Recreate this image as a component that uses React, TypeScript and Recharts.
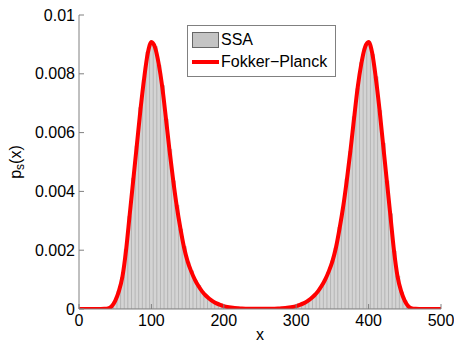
import React from "react";
import {
    ComposedChart,
    Bar,
    Line,
    XAxis,
    YAxis,
    Legend,
    Label,
} from "recharts";

// x positions of the histogram bins / curve samples
const xValues: number[] = [
    0, 5, 10, 15, 20, 25, 30, 35, 40, 45, 50, 55, 60, 65, 70, 75, 80, 85, 90, 95,
    100, 105, 110, 115, 120, 125, 130, 135, 140, 145, 150, 155, 160, 165, 170, 175, 180, 185, 190, 195,
    200, 205, 210, 215, 220, 225, 230, 235, 240, 245, 250, 255, 260, 265, 270, 275, 280, 285, 290, 295,
    300, 305, 310, 315, 320, 325, 330, 335, 340, 345, 350, 355, 360, 365, 370, 375, 380, 385, 390, 395,
    400, 405, 410, 415, 420, 425, 430, 435, 440, 445, 450, 455, 460, 465, 470, 475, 480, 485, 490, 495,
    500,
];

// Fokker-Planck stationary density, in units of 1e-3
const fokkerPlanck: number[] = [
    0, 0, 0, 0, 0, 0, 0, 0.005, 0.02, 0.09, 0.28, 0.6, 1.1, 2.0, 3.2, 4.4, 5.6, 6.8, 7.85, 8.7,
    9.08, 8.9, 8.35, 7.55, 6.5, 5.4, 4.4, 3.5, 2.75, 2.1, 1.62, 1.28, 1.0, 0.78, 0.6, 0.46, 0.35, 0.26, 0.19, 0.14,
    0.1, 0.07, 0.05, 0.035, 0.025, 0.017, 0.012, 0.009, 0.007, 0.006, 0.006, 0.006, 0.007, 0.009, 0.012, 0.017, 0.025, 0.035, 0.05, 0.07,
    0.1, 0.14, 0.19, 0.26, 0.35, 0.46, 0.6, 0.78, 1.0, 1.28, 1.62, 2.1, 2.75, 3.5, 4.4, 5.4, 6.5, 7.55, 8.35, 8.9,
    9.08, 8.7, 7.85, 6.8, 5.6, 4.4, 3.2, 2.0, 1.1, 0.6, 0.28, 0.09, 0.02, 0.005, 0, 0, 0, 0, 0, 0,
    0,
];

// SSA histogram heights, in units of 1e-3
const ssa: number[] = [
    0, 0, 0, 0, 0, 0, 0, 0.004, 0.02, 0.1, 0.27, 0.62, 1.08, 2.03, 3.15, 4.45, 5.55, 6.85, 7.8, 8.74,
    9.05, 8.93, 8.3, 7.6, 6.46, 5.43, 4.36, 3.53, 2.72, 2.13, 1.6, 1.3, 0.98, 0.8, 0.59, 0.47, 0.34, 0.27, 0.18, 0.14,
    0.1, 0.07, 0.05, 0.03, 0.02, 0.015, 0.01, 0.008, 0.006, 0.005, 0.006, 0.006, 0.006, 0.01, 0.012, 0.018, 0.026, 0.034, 0.05, 0.072,
    0.1, 0.13, 0.2, 0.25, 0.36, 0.45, 0.61, 0.77, 1.02, 1.26, 1.64, 2.08, 2.78, 3.46, 4.43, 5.36, 6.54, 7.5, 8.38, 8.86,
    9.1, 8.66, 7.9, 6.75, 5.64, 4.36, 3.24, 1.97, 1.12, 0.58, 0.29, 0.08, 0.02, 0.004, 0, 0, 0, 0, 0, 0,
    0,
];

const xTicks = [0, 100, 200, 300, 400, 500];
const yTicks = [0, 0.002, 0.004, 0.006, 0.008, 0.01];
const yTickLabels = ["0", "0.002", "0.004", "0.006", "0.008", "0.01"];

const rows = xValues.map((x, i) => ({
    x,
    ssa: ssa[i] / 1000,
    fp: fokkerPlanck[i] / 1000,
}));

const FONT = "'Liberation Sans', Arial, sans-serif";
const AXIS_GRAY = "#808080";

const LegendBox = (): React.ReactElement => (
    <div
        style={{
            border: `1px solid ${AXIS_GRAY}`,
            background: "#fff",
            fontFamily: FONT,
            fontSize: 16,
            color: "#000",
            padding: "4px 4px 2px 4px",
            boxSizing: "border-box",
            width: 149,
            height: 52,
        }}
    >
        <div style={{ display: "flex", alignItems: "center", height: 20 }}>
            <span
                style={{
                    display: "inline-block",
                    width: 27,
                    height: 16,
                    background: "#c4c4c4",
                    border: "1px solid #666",
                    boxSizing: "border-box",
                    marginRight: 2,
                }}
            />
            SSA
        </div>
        <div style={{ display: "flex", alignItems: "center", height: 24 }}>
            <span
                style={{
                    display: "inline-block",
                    width: 27,
                    height: 4,
                    background: "#ff0000",
                    marginRight: 2,
                }}
            />
            {"Fokker\u2212Planck"}
        </div>
    </div>
);

const YLabel = (props: any): React.ReactElement => {
    const cx = 17;
    const cy = 162;
    return (
        <text
            x={cx}
            y={cy}
            transform={`rotate(-90, ${cx}, ${cy})`}
            textAnchor="middle"
            fontFamily={FONT}
            fontSize={16}
            fill="#000"
            dominantBaseline="middle"
        >
            p
            <tspan fontSize={12} dy={4}>s</tspan>
            <tspan dy={-4}>(x)</tspan>
        </text>
    );
};

export default function App(): React.ReactElement {
    return (
        <div style={{ position: "absolute", left: 0, top: 0 }}>
            <ComposedChart
                width={454}
                height={343}
                data={rows}
                margin={{ top: 15, right: 13, left: 0, bottom: 0 }}
                barCategoryGap={0}
                barGap={0}
            >
                <XAxis
                    dataKey="x"
                    type="number"
                    domain={[0, 500]}
                    ticks={xTicks}
                    height={34}
                    stroke={AXIS_GRAY}
                    tickSize={-5}
                    tickMargin={11}
                    tick={{ fill: "#000", fontSize: 16, fontFamily: FONT }}
                    allowDataOverflow
                >
                    <Label
                        value="x"
                        position="insideBottom"
                        offset={3}
                        style={{ fill: "#000", fontSize: 16, fontFamily: FONT }}
                    />
                </XAxis>
                <XAxis
                    xAxisId="top"
                    orientation="top"
                    type="number"
                    dataKey="x"
                    domain={[0, 500]}
                    ticks={xTicks}
                    height={0}
                    stroke={AXIS_GRAY}
                    tickSize={-5}
                    tick={false}
                    allowDataOverflow
                />
                <YAxis
                    type="number"
                    domain={[0, 0.01]}
                    ticks={yTicks}
                    width={79}
                    stroke={AXIS_GRAY}
                    tickSize={-5}
                    tickMargin={9}
                    tickFormatter={(v: number) => yTickLabels[yTicks.indexOf(v)] ?? String(v)}
                    tick={{ fill: "#000", fontSize: 16, fontFamily: FONT }}
                    allowDataOverflow
                    label={<YLabel />}
                />
                <YAxis
                    yAxisId="right"
                    orientation="right"
                    type="number"
                    domain={[0, 0.01]}
                    ticks={yTicks}
                    width={0}
                    stroke={AXIS_GRAY}
                    tickSize={-5}
                    tick={false}
                    allowDataOverflow
                />
                <Legend
                    layout="vertical"
                    align="center"
                    verticalAlign="middle"
                    content={<LegendBox />}
                    wrapperStyle={{ left: 187, top: 25, width: 149, height: 52 }}
                />
                <Bar
                    dataKey="ssa"
                    fill="#d4d4d4"
                    stroke="#a6a6a6"
                    strokeWidth={0.6}
                    isAnimationActive={false}
                />
                <Line
                    dataKey="fp"
                    type="monotone"
                    stroke="#ff0000"
                    strokeWidth={4}
                    dot={false}
                    activeDot={false}
                    isAnimationActive={false}
                />
            </ComposedChart>
        </div>
    );
}
